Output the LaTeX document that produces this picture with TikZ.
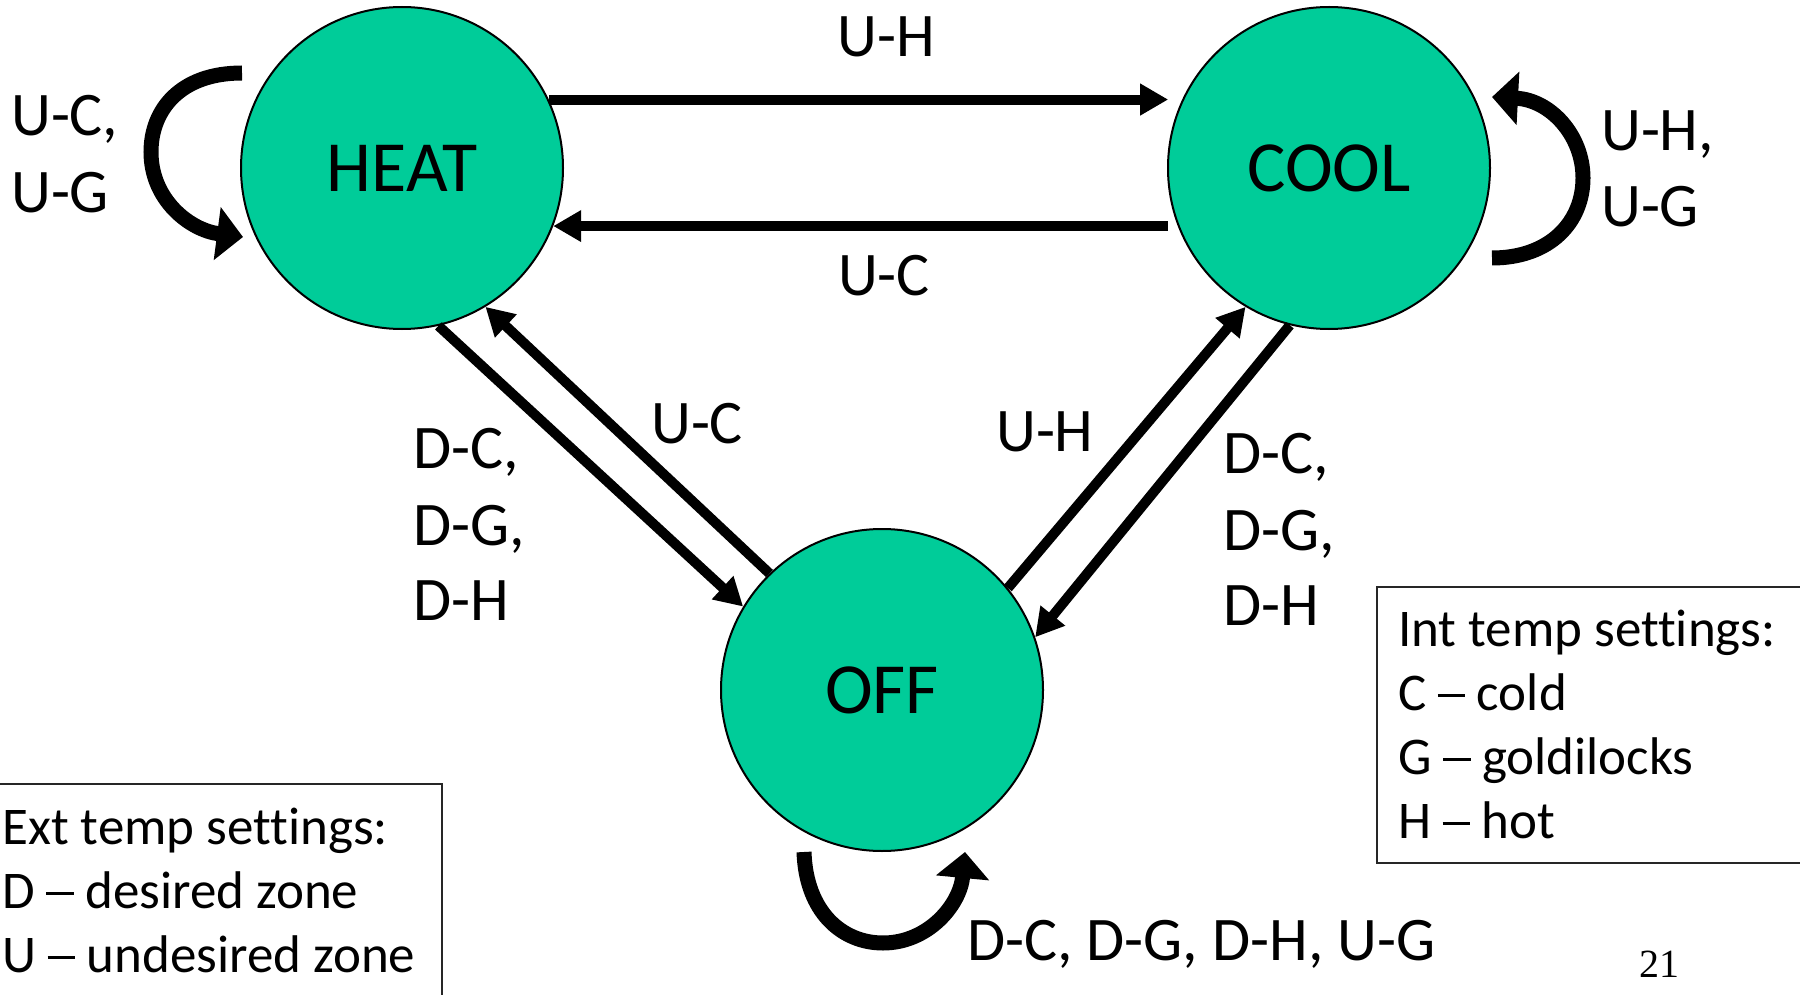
\documentclass[tikz,border=0pt]{standalone}
\usepackage{fontspec}
\setmainfont{Carlito}[Ligatures={TeX,NoCommon}]
\newfontfamily\pagenumfont{Liberation Serif}
\usetikzlibrary{arrows.meta}
\definecolor{stategreen}{RGB}{0,204,153}
\newcommand\legdash{\makebox[0.5em][c]{\rule[0.24em]{0.52em}{0.065em}}}
\tikzset{
  state/.style={circle, draw=black, line width=2pt, fill=stategreen, minimum size=322pt, inner sep=0pt, font=\fontsize{72}{86}\selectfont},
  arr/.style={line width=10pt, -{Triangle[length=28pt,width=30pt]}},
  looparr/.style={line width=15pt, -{Triangle[length=26pt,width=52pt]}},
  lbl/.style={inner sep=0pt, anchor=base west, font=\fontsize{62}{75}\selectfont},
  clbl/.style={inner sep=0pt, anchor=base, font=\fontsize{62}{75}\selectfont},
  legendtxt/.style={inner sep=0pt, anchor=base west, font=\fontsize{53}{64}\selectfont},
  legendbox/.style={draw=black!85, line width=1.5pt},
}
\begin{document}
\begin{tikzpicture}[x=1pt,y=-1pt]
\clip (0,0) rectangle (1800,995);
\fill[white] (0,0) rectangle (1800,995);

% states
\node[state] (heat) at (402,168) {HEAT};
\node[state] (cool) at (1329,168) {COOL};
\node[state] (off)  at (882,690) {OFF};

% straight transitions
\draw[arr] (heat.25) -- ([xshift=-14pt]cool.155);
\draw[arr] ([xshift=-10pt]cool.201) -- (heat.-21);
\draw[arr] (heat.-77.6) -- (off.149.7);
\draw[arr] (off.134.8) -- (heat.-59.3);
\draw[arr] (off.39.4) -- (cool.239.4);
\draw[arr] (cool.256.3) -- (off.19.5);

% self loops
\coordinate (hl1) at (242,73);  \coordinate (hl2) at (243,237);
\coordinate (cl1) at (1492,258); \coordinate (cl2) at (1492,97);
\coordinate (ol1) at (804,852); \coordinate (ol2) at (965,852);
\draw[looparr] (hl1) .. controls (180,73) and (151,110) .. (151,152) .. controls (151,200) and (190,230) .. (hl2);
\draw[looparr] (cl1) .. controls (1550,258) and (1583,222) .. (1583,178) .. controls (1583,135) and (1550,100) .. (cl2);
\draw[looparr] (ol1) .. controls (806,912) and (842,943) .. (883,943) .. controls (928,943) and (960,905) .. (ol2);

% transition labels
\node[clbl] (lUH) at (886,57) {U-H};
\node[clbl] (lUC) at (884,295) {U-C};
\node[lbl] (lUC2) at (651,443) {U-C};
\node[lbl] (lUH2) at (996,451) {U-H};
\node[lbl] (lL1) at (413,468) {D-C,};
\node[lbl] (lL2) at (413,545) {D-G,};
\node[lbl] (lL3) at (413,620) {D-H};
\node[lbl] (lR1) at (1223,473) {D-C,};
\node[lbl] (lR2) at (1223,550) {D-G,};
\node[lbl] (lR3) at (1223,625) {D-H};
\node[lbl] (lH1) at (11,136) {U-C,};
\node[lbl] (lH2) at (11,213) {U-G};
\node[lbl] (lC1) at (1601,151) {U-H,};
\node[lbl] (lC2) at (1601,227) {U-G};
\node[lbl] (lO) at (967,960) {D-C, D-G, D-H, U-G};

% legends
\draw[legendbox] (-5,784) rectangle (442,1010);
\node[legendtxt] (e1) at (2,844) {Ext temp settings:};
\node[legendtxt] (e2) at (2,908) {D \legdash{} desired zone};
\node[legendtxt] (e3) at (2,972) {U \legdash{} undesired zone};
\draw[legendbox] (1377,587) rectangle (1810,863);
\node[legendtxt] (i1) at (1398,646) {Int temp settings:};
\node[legendtxt] (i2) at (1398,710) {C \legdash{} cold};
\node[legendtxt] (i3) at (1398,774) {G \legdash{} goldilocks};
\node[legendtxt] (i4) at (1398,838) {H \legdash{} hot};

% page number
\node[inner sep=0pt, anchor=base west, font=\pagenumfont\fontsize{40}{48}\selectfont] (pg) at (1639,977) {21};
\end{tikzpicture}
\end{document}
